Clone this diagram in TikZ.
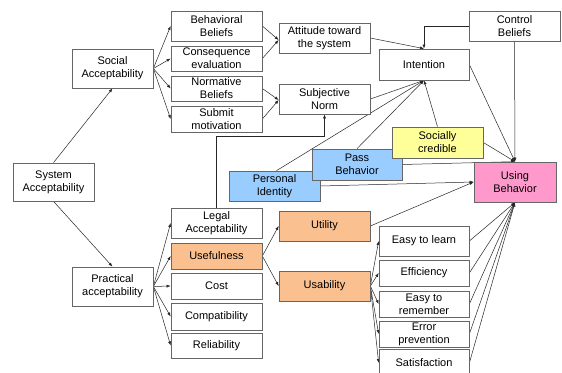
\documentclass[tikz,border=0pt]{standalone}
\usepackage{fontspec}
\setmainfont{Liberation Sans}
\usetikzlibrary{arrows.meta,backgrounds}
\definecolor{peach}{HTML}{FAC090}
\definecolor{lblue}{HTML}{99CCFF}
\definecolor{lyellow}{HTML}{FFFF99}
\definecolor{lpink}{HTML}{FF99CC}
\tikzset{
  box/.style={draw=black!60, line width=0.7pt, fill=white, align=center, inner sep=0pt,
    font=\fontsize{11}{13}\selectfont},
  conn/.style={draw=black!85, line width=0.5pt, -{Latex[length=4pt,width=3pt]}},
}
\begin{document}
\begin{tikzpicture}[x=1pt, y=-1pt]
\clip (0,0) rectangle (562,372);
% left column
\node[box, minimum width=81pt, minimum height=39pt] (soc) at (112.5,68.5) {Social\\Acceptability};
\node[box, minimum width=81pt, minimum height=38pt] (sys) at (53.5,182) {System\\Acceptability};
\node[box, minimum width=81pt, minimum height=39pt] (pa) at (112.5,286.5) {Practical\\acceptability};
% second column
\node[box, minimum width=91pt, minimum height=30pt] (bb) at (216.5,26) {Behavioral\\Beliefs};
\node[box, minimum width=91pt, minimum height=25pt] (ce) at (216.5,58.5) {Consequence\\evaluation};
\node[box, minimum width=91pt, minimum height=25pt] (nb) at (216.5,88.5) {Normative\\Beliefs};
\node[box, minimum width=91pt, minimum height=26pt] (sm) at (216.5,119) {Submit\\motivation};
\node[box, minimum width=91pt, minimum height=30pt] (la) at (216.5,223) {Legal\\Acceptability};
\node[box, minimum width=91pt, minimum height=26pt, fill=peach] (use) at (216.5,256) {Usefulness};
\node[box, minimum width=91pt, minimum height=26pt] (cost) at (216.5,286) {Cost};
\node[box, minimum width=91pt, minimum height=27pt] (comp) at (216.5,316.5) {Compatibility};
\node[box, minimum width=91pt, minimum height=25pt] (rel) at (216.5,345.5) {Reliability};
% third column
\node[box, minimum width=91pt, minimum height=30pt] (att) at (324.5,38) {Attitude toward\\the system};
\node[box, minimum width=91pt, minimum height=30pt] (sn) at (324.5,99) {Subjective\\Norm};
\node[box, minimum width=91pt, minimum height=30pt, fill=peach] (util) at (324.5,226) {Utility};
\node[box, minimum width=91pt, minimum height=30pt, fill=peach] (usab) at (324.5,286) {Usability};
% behaviour boxes
\node[box, minimum width=91pt, minimum height=30pt, fill=lblue] (pi) at (274.5,186) {Personal\\Identity};
\node[box, minimum width=90pt, minimum height=31pt, fill=lblue] (pb) at (357,164.5) {Pass\\Behavior};
\node[box, minimum width=91pt, minimum height=31pt, fill=lyellow] (sc) at (437.5,142.5) {Socially\\credible};
% right part
\node[box, minimum width=90pt, minimum height=31pt] (int) at (424,64.5) {Intention};
\node[box, minimum width=91pt, minimum height=30pt] (cb) at (514.5,26) {Control\\Beliefs};
\node[box, minimum width=82pt, minimum height=40pt, fill=lpink] (ub) at (515,182) {Using\\Behavior};
\node[box, minimum width=90pt, minimum height=30pt] (el) at (424,241) {Easy to learn};
\node[box, minimum width=90pt, minimum height=26pt] (eff) at (424,273) {Efficiency};
\node[box, minimum width=90pt, minimum height=26pt] (er) at (424,304) {Easy to\\remember};
\node[box, minimum width=90pt, minimum height=26pt] (ep) at (424,334) {Error\\prevention};
\node[box, minimum width=90pt, minimum height=28pt] (sat) at (424,363) {Satisfaction};
\begin{scope}[on background layer]
\fill[white] (0,0) rectangle (562,372);
\draw[conn] (sys.north) -- (soc.south);
\draw[conn] (sys.south) -- (pa.north);
\foreach \t in {bb,ce,nb,sm} \draw[conn] (soc.east) -- (\t.west);
\foreach \t in {la,use,cost,comp,rel} \draw[conn] (pa.east) -- (\t.west);
\draw[conn] (bb.east) -- ([yshift=-2pt]att.west);
\draw[conn] (ce.east) -- ([yshift=-2pt]att.west);
\draw[conn] (nb.east) -- ([yshift=-1pt]sn.west);
\draw[conn] (sm.east) -- ([yshift=-1pt]sn.west);
\draw[conn] (la.north) -- ++(0,-71) -| (sn.south);
\draw[conn] (att.east) -- (int.north);
\draw[conn] (cb.west) -| (int.north);
\draw[conn] (sn.east) -- (int.south);
\draw[conn] ([xshift=2pt]pi.north) -- (int.south);
\draw[conn] (pb.north) -- (int.south);
\draw[conn] (sc.north) -- (int.south);
\draw[conn] (cb.south) -- (ub.north);
\draw[conn] (int.east) -- (ub.north);
\draw[conn] (sc.east) -- (ub.north);
\draw[conn] (pb.east) -- (ub.north);
\draw[conn] (pi.east) -- (ub.west);
\draw[conn] (util.east) -- (ub.west);
\draw[conn] (use.east) -- (util.west);
\draw[conn] (use.east) -- (usab.west);
\foreach \t in {el,eff,er,ep,sat} {
  \draw[conn] (usab.east) -- (\t.west);
  \draw[conn] (\t.east) -- (ub.south);
}
\end{scope}
\end{tikzpicture}
\end{document}
